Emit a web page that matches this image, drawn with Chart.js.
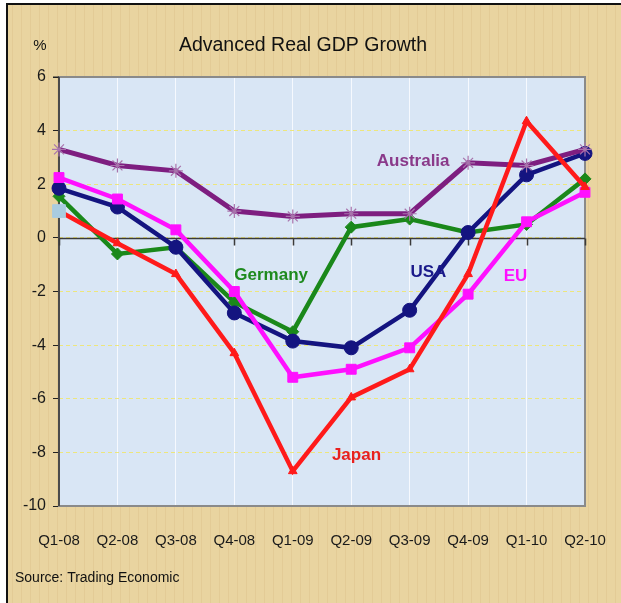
<!DOCTYPE html>
<html><head><meta charset="utf-8">
<script src="https://cdn.jsdelivr.net/npm/chart.js@4.4.0/dist/chart.umd.min.js"></script>
<style>html,body{margin:0;padding:0;background:#fff;overflow:hidden}canvas{display:block}</style>
</head><body>
<canvas id="c" width="621" height="603"></canvas>
<script>
const categories = ['Q1-08','Q2-08','Q3-08','Q4-08','Q1-09','Q2-09','Q3-09','Q4-09','Q1-10','Q2-10'];
const australia = [3.3, 2.7, 2.5, 1.0, 0.8, 0.9, 0.9, 2.8, 2.7, 3.3];
const usa       = [1.85, 1.15, -0.35, -2.8, -3.85, -4.1, -2.7, 0.2, 2.35, 3.15];
const eu        = [2.25, 1.45, 0.3, -2.0, -5.2, -4.9, -4.1, -2.1, 0.6, 1.7];
const germany   = [1.55, -0.6, -0.35, -2.4, -3.5, 0.4, 0.7, 0.2, 0.5, 2.2];
const japan     = [1.0, -0.2, -1.35, -4.3, -8.7, -5.95, -4.9, -1.35, 4.35, 1.9];
const yMin = -10, yMax = 6, yStep = 2;

const FONT = "'Liberation Sans', Arial, sans-serif";

// in-chart series labels: [text, category position, value position, colour]
const seriesLabels = [
  ['Australia', 6.06, 2.84, '#8A3A8A'],
  ['Germany', 3.63, -1.38, '#1E8A1E'],
  ['USA', 6.32, -1.27, '#1A1A8A'],
  ['EU', 7.81, -1.44, '#FF10FF'],
  ['Japan', 5.09, -8.1, '#E8201E']
];

const decor = {
  id: 'decor',
  beforeDraw(chart) {
    const ctx = chart.ctx, a = chart.chartArea;
    ctx.save();
    ctx.fillStyle = '#ffffff';
    ctx.fillRect(0, 0, 621, 603);
    ctx.fillStyle = '#E9D4A0';
    ctx.fillRect(7, 4, 614, 599);
    ctx.globalAlpha = 0.18;
    ctx.strokeStyle = '#C9A86A';
    ctx.lineWidth = 1;
    for (let x = 12; x < 621; x += 9) {
      ctx.beginPath(); ctx.moveTo(x + 0.5, 4); ctx.lineTo(x + 0.5, 603); ctx.stroke();
    }
    ctx.globalAlpha = 1;
    ctx.fillStyle = '#111';
    ctx.fillRect(6, 3, 615, 2);
    ctx.fillRect(6, 3, 2, 600);
    ctx.fillStyle = '#D9E6F5';
    ctx.fillRect(a.left, a.top, a.right - a.left, a.bottom - a.top);
    ctx.restore();
  },
  beforeDatasetsDraw(chart) {
    const ctx = chart.ctx, a = chart.chartArea;
    const xs = chart.scales.x, ys = chart.scales.y;
    ctx.save();
    ctx.strokeStyle = '#8a8a8a';
    ctx.lineWidth = 2;
    ctx.strokeRect(a.left, a.top, a.right - a.left, a.bottom - a.top);
    ctx.strokeStyle = '#222';
    ctx.lineWidth = 1.2;
    ctx.beginPath();
    ctx.moveTo(a.left - 6, a.top); ctx.lineTo(a.left, a.top);
    ctx.moveTo(a.left, a.top); ctx.lineTo(a.left, a.bottom);
    ctx.stroke();
    const y0 = Math.round(ys.getPixelForValue(0)) + 0.5;
    ctx.strokeStyle = '#3a3a3a';
    ctx.lineWidth = 1.5;
    ctx.beginPath();
    ctx.moveTo(a.left, y0); ctx.lineTo(a.right, y0);
    for (let i = 0; i < categories.length; i++) {
      const x = Math.round(xs.getPixelForValue(i)) + 0.5;
      ctx.moveTo(x, y0); ctx.lineTo(x, y0 + 7);
    }
    ctx.stroke();
    ctx.restore();
  },
  afterDraw(chart) {
    const ctx = chart.ctx;
    const xs = chart.scales.x, ys = chart.scales.y;
    ctx.save();
    ctx.textAlign = 'center';
    ctx.textBaseline = 'middle';
    ctx.fillStyle = '#111';
    ctx.font = '19.5px ' + FONT;
    ctx.fillText('Advanced Real GDP Growth', 303, 46);
    ctx.font = '15px ' + FONT;
    ctx.fillText('%', 40, 46);
    ctx.textAlign = 'left';
    ctx.font = '14px ' + FONT;
    ctx.fillText('Source: Trading Economic', 15, 578);
    ctx.textAlign = 'center';
    ctx.font = 'bold 17px ' + FONT;
    seriesLabels.forEach(([t, xi, yv, c]) => {
      ctx.fillStyle = c;
      ctx.fillText(t, xs.getPixelForValue(xi), ys.getPixelForValue(yv));
    });
    ctx.restore();
  }
};

const common = { borderWidth: 4.5, tension: 0, clip: false, pointBorderWidth: 1 };

new Chart(document.getElementById('c'), {
  type: 'line',
  data: {
    labels: categories,
    datasets: [
      Object.assign({}, common, {
        label: 'Japan', data: japan, borderColor: '#FF1A1A',
        pointStyle: c => c.dataIndex === 0 ? 'rect' : 'triangle',
        pointRadius: c => c.dataIndex === 0 ? 9 : 5,
        pointBackgroundColor: c => c.dataIndex === 0 ? '#A9CCE0' : '#FF1A1A',
        pointBorderColor: c => c.dataIndex === 0 ? '#A9CCE0' : '#FF1A1A'
      }),
      Object.assign({}, common, {
        label: 'Australia', data: australia, borderColor: '#7E1E80', borderWidth: 5,
        pointStyle: 'star', pointRadius: 7, pointBorderColor: '#A874AC', pointBorderWidth: 1.2,
        pointBackgroundColor: '#A874AC'
      }),
      Object.assign({}, common, {
        label: 'EU', data: eu, borderColor: '#FF10FF',
        pointStyle: 'rect', pointRadius: 7, pointBackgroundColor: '#FF10FF', pointBorderColor: '#FF10FF'
      }),
      Object.assign({}, common, {
        label: 'USA', data: usa, borderColor: '#141480',
        pointStyle: 'circle', pointRadius: 7, pointBackgroundColor: '#141480', pointBorderColor: '#141480'
      }),
      Object.assign({}, common, {
        label: 'Germany', data: germany, borderColor: '#1A881A',
        pointStyle: 'rectRot', pointRadius: 6, pointBackgroundColor: '#1A881A', pointBorderColor: '#1A881A'
      })
    ]
  },
  options: {
    responsive: false,
    animation: false,
    devicePixelRatio: 1,
    layout: { padding: { top: 77, right: 36, left: 0, bottom: 0 } },
    plugins: { legend: { display: false }, tooltip: { enabled: false }, title: { display: false } },
    scales: {
      x: {
        type: 'category', offset: false,
        grid: { color: 'rgba(250,252,255,0.85)', lineWidth: 1, drawTicks: false },
        border: { display: false },
        ticks: { color: '#1a1a1a', font: { family: FONT, size: 15 }, padding: 26, maxRotation: 0, autoSkip: false },
        afterFit(s) { s.height = 97; s.paddingRight = 0; s.paddingLeft = 0; }
      },
      y: {
        min: yMin, max: yMax,
        ticks: { stepSize: yStep, color: '#1a1a1a', font: { family: FONT, size: 16 }, padding: 7 },
        grid: { color: '#EDE67C', lineWidth: 1, tickColor: '#222', tickLength: 6, tickBorderDash: [] },
        border: { display: false, dash: [4, 3] },
        afterFit(s) { s.width = 59; }
      }
    }
  },
  plugins: [decor]
});
</script>
</body></html>
